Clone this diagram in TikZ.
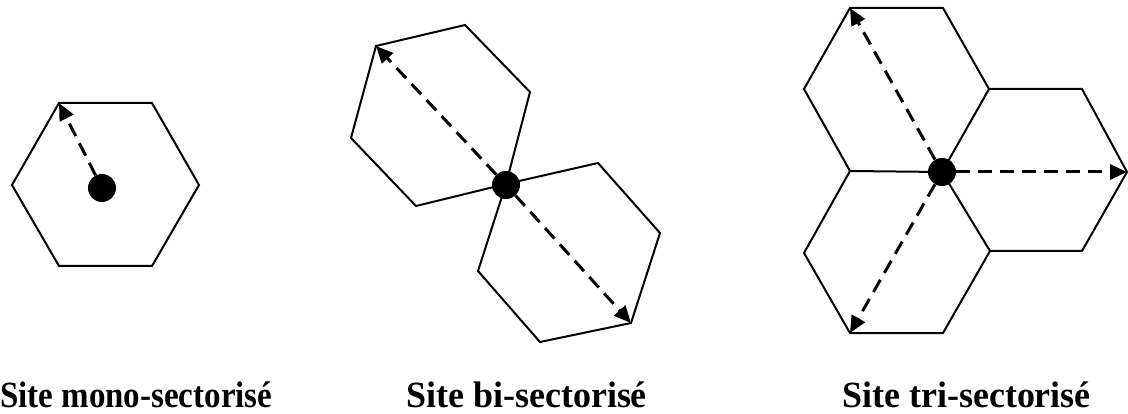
\documentclass[tikz,border=0pt]{standalone}
\usepackage{fontspec}
\setmainfont{Liberation Serif}
\usetikzlibrary{arrows.meta}
\tikzset{
  hexline/.style={line width=2pt, line join=miter},
  dasharrow/.style={line width=3pt, dash pattern=on 14pt off 8pt, -{Triangle[length=17pt,width=15pt]}},
  site/.style={circle, fill=black, inner sep=0pt, minimum size=28pt},
  lbl/.style={anchor=base west, inner sep=0pt, yscale=1.12, font=\bfseries\fontsize{33}{33}\selectfont}
}
\begin{document}
\begin{tikzpicture}[x=1pt, y=-1pt]
\useasboundingbox (0,0) rectangle (1128,414);
% ---------- mono ----------
\coordinate (m1) at (59,103);
\coordinate (m2) at (152,103);
\coordinate (m3) at (199,185);
\coordinate (m4) at (152,266);
\coordinate (m5) at (59,266);
\coordinate (m6) at (12,185);
\draw[hexline] (m1) -- (m2) -- (m3) -- (m4) -- (m5) -- (m6) -- cycle;
\node[site] (ms) at (102,188) {};
\draw[dasharrow] (ms) -- (m1);
% ---------- bi ----------
\coordinate (a1) at (376,46);
\coordinate (a2) at (465,25);
\coordinate (a3) at (530,92);
\coordinate (a4) at (506,184);
\coordinate (a5) at (416,206);
\coordinate (a6) at (351,138);
\draw[hexline] (a1) -- (a2) -- (a3) -- (a4) -- (a5) -- (a6) -- cycle;
\coordinate (b1) at (598,163);
\coordinate (b2) at (660,233);
\coordinate (b3) at (631,323);
\coordinate (b4) at (540,342);
\coordinate (b5) at (478,271);
\draw[hexline] (a4) -- (b1) -- (b2) -- (b3) -- (b4) -- (b5) -- cycle;
\node[site] (bs) at (506,185) {};
\draw[dasharrow] (bs) -- (a1);
\draw[dasharrow] (bs) -- (b3);
% ---------- tri ----------
\coordinate (t0) at (942,172);
\coordinate (u1) at (850,8);
\coordinate (u2) at (943,8);
\coordinate (u3) at (989,89);
\coordinate (u5) at (850,171);
\coordinate (u6) at (804,89);
\draw[hexline] (u1) -- (u2) -- (u3) -- (t0) -- (u5) -- (u6) -- cycle;
\coordinate (r2) at (1082,89);
\coordinate (r3) at (1127,172);
\coordinate (r4) at (1082,251);
\coordinate (r5) at (990,251);
\draw[hexline] (u3) -- (r2) -- (r3) -- (r4) -- (r5) -- (t0);
\coordinate (l4) at (943,333);
\coordinate (l5) at (850,333);
\coordinate (l6) at (804,253);
\draw[hexline] (r5) -- (l4) -- (l5) -- (l6) -- (u5);
\node[site] (ts) at (942,172) {};
\draw[dasharrow] (ts) -- (u1);
\draw[dasharrow] (ts) -- (r3);
\draw[dasharrow] (ts) -- (l5);
% ---------- labels ----------
\node[lbl] (lm) at (0,407) {Site mono-sectorisé};
\node[lbl, xscale=1.09] (lb) at (406,407) {Site bi-sectorisé};
\node[lbl, xscale=1.09] (lt) at (842,407) {Site tri-sectorisé};
\end{tikzpicture}
\end{document}
